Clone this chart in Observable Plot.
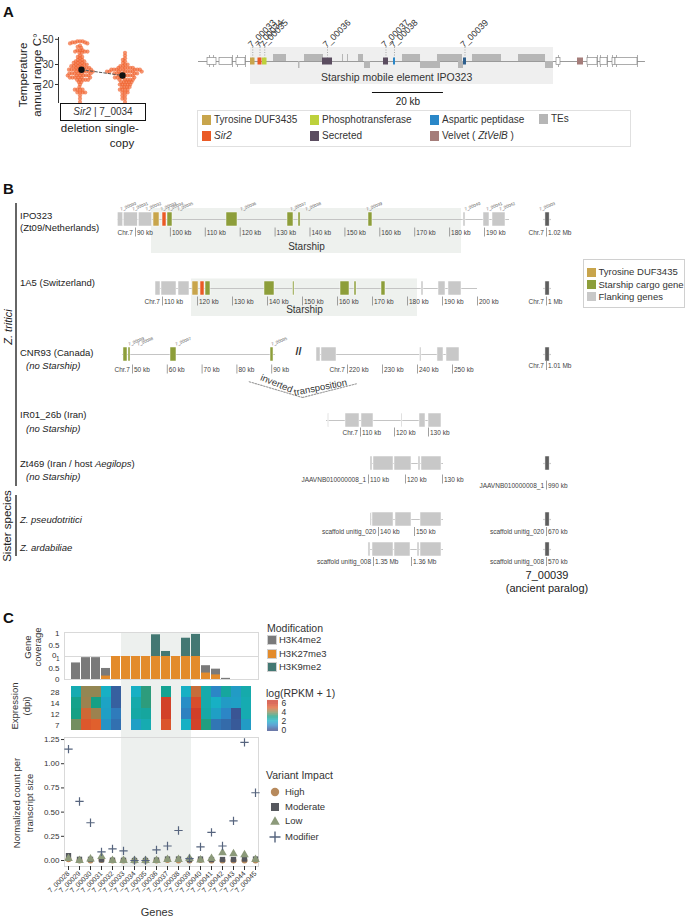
<!DOCTYPE html>
<html>
<head>
<meta charset="utf-8">
<script src="https://cdn.jsdelivr.net/npm/d3@7"></script>
<script src="https://cdn.jsdelivr.net/npm/@observablehq/plot@0.6"></script>
<style>
  html, body { margin: 0; padding: 0; background: #fff; }
  #root { position: relative; width: 685px; height: 919px; overflow: hidden; background: #fff;
          font-family: "Liberation Sans", Arial, Helvetica, sans-serif; color: #222; }
  #root svg { background: transparent !important; overflow: visible; }
  .t { position: absolute; white-space: nowrap; line-height: 1; }
  .box { position: absolute; box-sizing: border-box; }
</style>
</head>
<body>
<div id="root"></div>
<script>
// =================== DATA ===================
// ---- Panel A (left): annual temperature range, beeswarm [value, count]
const swarmGroups = ["deletion", "single-copy"];
const swarmDeletion = [[48,3],[47,3],[46,2],[44,1],[43,1],[42,1],[40,3],[39,3],[38,2],[36,1],[35,2],[34,1],[33,2],[32,3],[31,3],[30,4],[29,4],[28,5],[27,6],[26,6],[25,6],[24,6],[23,6],[22,5],[21,2],[20,1],[19,1],[18,4],[17,4],[16,1],[15,1],[14,1]];
const swarmSingle = [[38,1],[36,1],[34,1],[33,1],[32,1],[31,1],[30,2],[29,2],[28,5],[27,8],[26,8],[25,6],[24,5],[23,5],[22,5],[21,5],[20,5],[19,4],[18,4],[17,3],[16,2],[15,2],[14,1]];
const swarmMeans = [27.0, 24.0];
const swarmTicks = [20, 30, 50];

// ---- Panel A (right): Starship map, IPO323 (kb from left end of drawn region)
const mapExtent = [0, 125.9];
const mapStarship = [14.65, 100.0];
const mapOutline = [[2.54,5.07],[5.92,9.58],[10.70,13.24],[100.85,101.97],[109.58,112.39],[113.24,115.21],[116.62,117.46],[117.46,123.66]];
const mapOutlineTicks = [3.10,4.23,9.58,10.99,13.24,101.41,109.58,112.39,113.24,115.21,116.62,117.75,123.66];
const mapTEsUp = [[21.13,24.79],[29.86,35.21],[40.56,40.85],[41.97,42.25],[45.07,46.48],[57.46,62.54],[67.32,74.37],[77.18,85.35],[90.14,97.75]];
const mapTEsDown = [[28.17,28.59],[46.76,48.45],[62.54,68.17],[73.24,74.65],[97.75,100.0]];
const mapGeneIds   = ["7_00033","7_00034","7_00035","7_00036","7_00037","7_00038","7_00039","ZtVelB"];
const mapGeneStart = [14.65, 16.76, 18.03, 34.93, 52.11, 54.93, 74.65, 106.76];
const mapGeneEnd   = [15.92, 17.89, 19.30, 37.75, 53.52, 55.49, 75.49, 108.45];
const mapGeneType  = ["Tyrosine DUF3435","Sir2","Phosphotransferase","Secreted","Secreted","Aspartic peptidase","Aspartic peptidase 2","Velvet"];
const mapScaleBarKb = 20;

// ---- Panel B: synteny tracks [start kb, end kb, class]
const ipoTrack = [84.84, 197.16];
const ipoStarship = [94.58, 183.41];
const ipoTicks = [90,100,110,120,130,140,150,160,170,180,190];
const ipoGenes = [[84.93,86.48,"flank"],[86.65,90.66,"flank"],[90.95,94.79,"flank"],[95.16,96.88,"tyr"],[97.74,98.88,"sir2"],[99.17,100.60,"cargo"],[116.07,119.23,"cargo"],[133.55,135.27,"cargo"],[136.70,137.30,"cargo"],[156.76,157.90,"cargo"],[183.98,184.56,"flank"],[189.71,191.43,"flank"],[192.29,196.02,"flank"]];
const ipoLabels = [[85.7,"7_00030"],[89.1,"7_00031"],[92.9,"7_00032"],[97.2,"7_00033"],[99.2,"7_00034"],[102.0,"7_00035"],[120.1,"7_00036"],[134.4,"7_00037"],[138.7,"7_00038"],[156.2,"7_00039"],[184.3,"7_00040"],[190.6,"7_00041"],[194.3,"7_00042"]];

const a15Track = [108.0, 200.0];
const a15Starship = [118.29, 182.86];
const a15Ticks = [110,120,130,140,150,160,170,180,190,200];
const a15Genes = [[108.0,109.43,"flank"],[109.71,114.0,"flank"],[114.57,117.71,"flank"],[118.57,120.29,"tyr"],[120.86,122.0,"sir2"],[122.29,123.71,"cargo"],[139.14,142.0,"cargo"],[147.29,147.71,"cargo"],[160.86,163.43,"cargo"],[164.86,165.43,"cargo"],[172.57,173.71,"cargo"],[184.0,184.57,"flank"],[188.86,190.86,"flank"],[191.71,195.43,"flank"]];

const cnrTrackA = [47.13, 91.09];
const cnrTicksA = [50,60,70,80,90];
const cnrGenesA = [[47.41,48.56,"cargo"],[48.85,49.43,"cargo"],[60.92,62.64,"cargo"],[89.66,90.52,"cargo"]];
const cnrLabelsA = [[48.85,"7_00039"],[51.44,"7_00038"],[62.36,"7_00037"],[89.94,"7_00035"]];
const cnrTrackB = [211.14, 252.0];
const cnrTicksB = [220,230,240,250];
const cnrGenesB = [[211.14,212.29,"flank"],[212.57,216.86,"flank"],[240.71,241.14,"flank"],[245.71,247.43,"flank"],[248.29,252.0,"flank"]];

const irTrack = [100.0, 133.82];
const irTicks = [110,120,130];
const irGenes = [[100.44,100.74,"flank"],[105.59,109.71,"flank"],[110.29,113.82,"flank"],[122.06,122.35,"flank"],[127.35,129.12,"flank"],[130.0,133.82,"flank"]];

const ztTrack = [110.54, 130.27];
const ztTicks = [110,120,130];
const ztGenes = [[110.54,111.08,"flank"],[111.35,116.76,"flank"],[117.03,121.62,"flank"],[123.51,124.05,"flank"],[124.32,129.73,"flank"]];

const psTrack = [137.8, 158.06];
const psTicks = [140,150];
const psGenes = [[137.78,138.19,"flank"],[138.33,144.17,"flank"],[144.72,149.17,"flank"],[151.67,157.5,"flank"]];

const arTrack = [1348.68, 1368.42];
const arTicks = [[1350,"1.35 Mb"],[1360,"1.36 Mb"]];
const arGenes = [[1348.68,1349.21,"flank"],[1349.74,1355.26,"flank"],[1355.53,1359.74,"flank"],[1361.58,1362.11,"flank"],[1362.37,1367.89,"flank"]];

// 7_00039 ancient paralog loci
const paralogChr   = ["Chr.7","Chr.7","Chr.7","JAAVNB010000008_1","scaffold unitig_020","scaffold unitig_008"];
const paralogKb    = [1020, 1000, 1010, 990, 670, 570];
const paralogLabel = ["1.02 Mb","1 Mb","1.01 Mb","990 kb","670 kb","570 kb"];
const paralogGene  = [[1019.7,1020.9],[999.7,1000.9],[1009.7,1010.9],[989.7,990.9],[669.7,670.9],[569.7,570.9]];

// ---- Panel C
const cGenes = ["7_00028","7_00029","7_00030","7_00031","7_00032","7_00033","7_00034","7_00035","7_00036","7_00037","7_00038","7_00039","7_00040","7_00041","7_00042","7_00043","7_00044","7_00045"];
const starshipGenes = ["7_00033","7_00034","7_00035","7_00036","7_00037","7_00038","7_00039"];
const covH3K4me2  = [0.72,0.95,0.95,0.48,0,0,0,0,0,0,0,0,0,0.60,0.45,0.05,0,0];
const covH3K27me3 = [0,0,0,0.15,1,1,1,1,1,1,1,1,1,0.28,0.20,0,0,0];
const covH3K9me2  = [0,0,0,0,0,0,0,0,0.95,0.22,0,0.80,0.97,0,0,0,0,0];
const dpiRows = ["28","14","12","7"];
const expr28 = [2.3,4.1,4.1,2.0,0.3,null,2.0,3.2,null,2.8,null,2.0,4.7,2.4,1.0,2.6,1.5,2.4];
const expr14 = [2.9,4.2,3.0,1.7,0.3,null,2.4,3.2,null,5.8,null,1.2,5.5,2.4,2.0,1.5,1.6,2.3];
const expr12 = [3.0,4.8,4.2,1.6,0.8,null,2.5,2.6,null,5.8,null,0.9,5.9,2.5,1.6,1.0,0.1,2.3];
const expr7  = [3.8,5.2,5.0,1.3,0.6,null,1.6,2.3,null,5.3,null,2.0,5.8,3.1,0.7,0.5,0.2,1.5];
const varHigh     = [0.012,0,0,0.004,0,0,0,0,0,0.004,0,0,0.004,0,0,0,0,0];
const varModerate = [0.05,0.012,0.012,0.008,0.003,0.002,0,0,0.004,0.015,0.015,0.01,0.015,0.01,0.01,0.01,0.015,0.015];
const varLow      = [0.02,0,0.015,0.04,0,0,0,0,0,0.01,0.01,0.02,0.005,0.02,0.08,0.07,0.06,0.01];
const varModifier = [1.15,0.61,0.39,0.09,0.12,0.10,0.0,0.0,0.11,0.15,0.31,0.02,0.14,0.29,0.15,0.41,1.22,0.70];
const varTicks = [0, 0.25, 0.5, 0.75, 1.0, 1.25];

// =================== STYLES ===================
const FONT = "'Liberation Sans', Arial, Helvetica, sans-serif";
const STYLE = {background: "transparent", overflow: "visible", fontFamily: FONT};
const typeColor = {"Tyrosine DUF3435": "#c8a54c", "Sir2": "#ea5a26", "Phosphotransferase": "#bdd13c",
  "Aspartic peptidase": "#2a87c8", "Aspartic peptidase 2": "#2e5f8e", "Secreted": "#5b4d60",
  "Velvet": "#a57d7a", "TEs": "#b6b6b6"};
const geneFill = {flank: "#c8c8c8", tyr: "#c8a54c", sir2: "#ea5a26", cargo: "#8d9e3a", paralog: "#5e5e5e"};
const heatScale = {type: "linear", domain: [0,1,2,3,4,5,6],
  range: ["#3b4f8e","#2c86c6","#17b0c4","#15a085","#8b8a57","#e0602d","#cf3a28"], clamp: true};

// =================== HELPERS ===================
const root = document.getElementById("root");
function put(node, left, top) {
  node.style.position = "absolute"; node.style.left = left + "px"; node.style.top = top + "px";
  root.appendChild(node); return node;
}
function txt(html, x, y, o = {}) {
  const d = document.createElement("div");
  d.className = "t"; d.innerHTML = html;
  d.style.left = x + "px"; d.style.top = y + "px";
  d.style.fontSize = (o.size || 10) + "px";
  if (o.weight) d.style.fontWeight = o.weight;
  if (o.italic) d.style.fontStyle = "italic";
  d.style.color = o.color || "#222";
  const tx = o.anchor === "middle" ? "-50%" : o.anchor === "end" ? "-100%" : "0";
  d.style.transform = o.rotate ? `translate(-50%,-50%) rotate(${o.rotate}deg)` : `translate(${tx},-50%)`;
  root.appendChild(d); return d;
}
function rectDiv(left, top, w, h, css) {
  const d = document.createElement("div");
  d.className = "box";
  Object.assign(d.style, {left: left + "px", top: top + "px", width: w + "px", height: h + "px"}, css);
  root.appendChild(d); return d;
}
function swatch(x, y, w, h, color, border) {
  return rectDiv(x, y - h / 2, w, h, {background: color, border: border || "none"});
}

// =================== PANEL LETTERS ===================
txt("A", 3, 11, {size: 15, weight: "bold", color: "#111"});
txt("B", 3, 188, {size: 15, weight: "bold", color: "#111"});
txt("C", 3, 617, {size: 15, weight: "bold", color: "#111"});

// =================== PANEL A LEFT ===================
const swarmData = [];
for (const [v, n] of swarmDeletion) for (let i = 0; i < n; i++) swarmData.push({group: "deletion", value: v});
for (const [v, n] of swarmSingle) for (let i = 0; i < n; i++) swarmData.push({group: "single-copy", value: v});
const meanData = swarmGroups.map((g, i) => ({group: g, value: swarmMeans[i]}));
const swarmDims = {width: 190, height: 103, marginLeft: 58, marginRight: 45, marginTop: 37, marginBottom: 0};
const yLogDomain = [13.6, 51.9];

put(Plot.plot({...swarmDims, style: STYLE,
  fx: {domain: swarmGroups, padding: 0.1, axis: null, label: null},
  y: {type: "log", domain: yLogDomain, axis: null},
  marks: [Plot.dot(swarmData, Plot.dodgeX({anchor: "middle", padding: -1.6},
    {fx: "group", y: "value", r: 2.1, fill: "#f0622c", fillOpacity: 0.68}))]
}), 0, 0);

rectDiv(58, 37, 1.2, 66, {background: "#333"});
put(Plot.plot({...swarmDims, style: {...STYLE, color: "#333"},
  x: {type: "point", domain: swarmGroups, padding: 0.55, axis: null},
  y: {type: "log", domain: yLogDomain},
  marks: [
    Plot.axisY({ticks: swarmTicks, tickFormat: d => String(d), tickSize: 3, tickPadding: 2, fontSize: 10, label: null}),
    Plot.line(meanData, {x: "group", y: "value", stroke: "#555", strokeDasharray: "2.5,2", strokeWidth: 1}),
    Plot.dot(meanData, {x: "group", y: "value", r: 3.2, fill: "#111"})
  ]
}), 0, 0);

rectDiv(60, 103, 86, 18, {border: "1.3px solid #111", background: "#fff"});
txt("<i>Sir2</i> | 7_0034", 103, 112, {size: 10, anchor: "middle", color: "#333"});
txt("deletion", 81, 129, {size: 11.5, anchor: "middle"});
txt("single-", 122, 129, {size: 11.5, anchor: "middle"});
txt("copy", 122, 143.5, {size: 11.5, anchor: "middle"});
txt("Temperature", 24, 75, {size: 11.5, rotate: -90});
txt("annual range C°", 37.5, 75, {size: 11.5, rotate: -90});

// =================== PANEL A RIGHT ===================
const mapGenes = mapGeneIds.map((id, i) => ({id, start: mapGeneStart[i], end: mapGeneEnd[i], type: mapGeneType[i]}));
const mapLabelled = mapGenes.filter(d => d.id.startsWith("7_"));
const mid = d => (d.start + d.end) / 2;
const mapP0 = 198, mapS = 3.55;
put(Plot.plot({width: 685, height: 108, margin: 0, style: STYLE,
  x: {domain: [-mapP0 / mapS, (685 - mapP0) / mapS], range: [0, 685], axis: null},
  y: {domain: [-61, 47], range: [0, 108], axis: null},
  marks: [
    Plot.rect([mapStarship], {x1: d => d[0], x2: d => d[1], y1: -14, y2: 23, fill: "#efefef"}),
    Plot.text(["Starship mobile element IPO323"], {x: (mapStarship[0] + mapStarship[1]) / 2 - 1.5, y: 16, text: d => d, fontSize: 10.5, fill: "#333"}),
    Plot.ruleY([0], {x1: mapExtent[0], x2: mapExtent[1], stroke: "#9a9a9a", strokeWidth: 1}),
    Plot.ruleX(mapOutlineTicks, {x: d => d, y1: -6, y2: 6, stroke: "#8a8a8a", strokeWidth: 0.7}),
    Plot.rect(mapOutline, {x1: d => d[0], x2: d => d[1], y1: -3.5, y2: 3.5, fill: "white", stroke: "#8a8a8a", strokeWidth: 0.7}),
    Plot.rect(mapTEsUp, {x1: d => d[0], x2: d => d[1], y1: -7, y2: 0, fill: typeColor.TEs}),
    Plot.rect(mapTEsDown, {x1: d => d[0], x2: d => d[1], y1: 0, y2: 7, fill: typeColor.TEs}),
    Plot.ruleX(mapLabelled, {x: mid, y1: -14, y2: -3.5, stroke: "#888", strokeDasharray: "1,1.5", strokeWidth: 0.7}),
    Plot.rect(mapGenes, {x1: "start", x2: "end", y1: -3.5, y2: 3.5, fill: d => typeColor[d.type]}),
    Plot.text(mapLabelled, {x: mid, y: -15.5, text: "id", rotate: -45, textAnchor: "start", dx: -3, fontSize: 9, fill: "#333"}),
    Plot.ruleY([31], {x1: 49, x2: 49 + mapScaleBarKb, stroke: "#111", strokeWidth: 1.2}),
    Plot.text([`${mapScaleBarKb} kb`], {x: 49 + mapScaleBarKb / 2, y: 40, text: d => d, fontSize: 10, fill: "#222"})
  ]
}), 0, 0);

// legend A
rectDiv(197, 110, 434, 37, {border: "1.5px solid #e0e0e0"});
const legA = [
  [202, 120, "Tyrosine DUF3435", "Tyrosine DUF3435"], [310, 120, "Phosphotransferase", "Phosphotransferase"],
  [430, 120, "Aspartic peptidase", "Aspartic peptidase"], [539, 119, "TEs", "TEs"],
  [202, 136, "Sir2", "<i>Sir2</i>"], [310, 136, "Secreted", "Secreted"], [430, 136, "Velvet", "Velvet ( <i>ZtVelB</i> )"]
];
for (const [x, y, key, label] of legA) {
  swatch(x, y, 9, 10, typeColor[key]);
  txt(label, x + 12, y, {size: 10, color: "#333"});
}

// =================== PANEL B ===================
function track(c) {
  const H = 100;
  const ticks = c.ticks;
  const marks = [];
  if (c.shade) {
    marks.push(Plot.rect([c.shade], {x1: d => d[0], x2: d => d[1], y1: c.shadeY[0], y2: c.shadeY[1], fill: "#eef1ee"}));
    marks.push(Plot.text(["Starship"], {x: (c.shade[0] + c.shade[1]) / 2, y: c.starY, text: d => d, fontSize: 10, fill: "#333"}));
  }
  if (c.line) marks.push(Plot.ruleY([0], {x1: c.line[0], x2: c.line[1], stroke: "#c4c4c4", strokeWidth: 1.2}));
  marks.push(Plot.rect(c.genes, {x1: d => d[0], x2: d => d[1], y1: -7, y2: 7, fill: d => geneFill[d[2]], stroke: "white", strokeWidth: 0.5}));
  marks.push(Plot.ruleX(ticks, {x: d => d[0], y1: c.tickY - 4.5, y2: c.tickY + 4.5, stroke: "#888", strokeWidth: 0.8}));
  marks.push(Plot.text(ticks, {x: d => d[0], y: c.tickY, text: d => d[1], textAnchor: "start", dx: 1.5, fontSize: 6.5, fill: "#444"}));
  if (c.chr) marks.push(Plot.text([ticks[0]], {x: d => d[0], y: c.tickY, text: () => c.chr, textAnchor: "end", dx: -2.5, fontSize: 6.5, fill: "#444"}));
  if (c.labels) marks.push(Plot.text(c.labels, {x: d => d[0], y: -10, text: d => d[1], rotate: -22, textAnchor: "start", fontSize: 4.3, fill: "#555"}));
  if (c.extra) marks.push(...c.extra);
  put(Plot.plot({width: 685, height: H, margin: 0, style: STYLE,
    x: {domain: [c.k0 - c.p0 / c.s, c.k0 + (685 - c.p0) / c.s], range: [0, 685], axis: null},
    y: {domain: [-50, 50], range: [0, H], axis: null},
    marks
  }), 0, c.y - 50);
}
const kbTicks = arr => arr.map(t => [t, `${t} kb`]);

// Row 1 IPO323
track({y: 219, p0: 135, k0: 90, s: 3.49, line: ipoTrack, genes: ipoGenes, ticks: kbTicks(ipoTicks), chr: "Chr.7", tickY: 13,
  shade: ipoStarship, shadeY: [-11, 34], starY: 27.5, labels: ipoLabels});
// Row 2 1A5
track({y: 287.5, p0: 162, k0: 110, s: 3.5, line: a15Track, genes: a15Genes, ticks: kbTicks(a15Ticks), chr: "Chr.7", tickY: 13,
  shade: a15Starship, shadeY: [-9.5, 28], starY: 21.5});
// Row 3 CNR93 (two segments)
const transposition = [
  {x1: 98.85, y1: 43, x2: 83.33, y2: 27, bend: 17},
  {x1: 98.85, y1: 43, x2: 114.66, y2: 29, bend: -15}
];
track({y: 354, p0: 132, k0: 50, s: 3.48, line: cnrTrackA, genes: cnrGenesA, ticks: kbTicks(cnrTicksA), chr: "Chr.7", tickY: 15,
  labels: cnrLabelsA,
  extra: [
    Plot.text(["//"], {x: 97.7, y: -3, text: d => d, fontSize: 11, fontWeight: "bold", fill: "#333"}),
    Plot.arrow(transposition, {x1: "x1", y1: "y1", x2: "x2", y2: "y2", bend: d => d.bend, stroke: "#999", strokeWidth: 1.1, strokeDasharray: "1.6,1.4", headLength: 8}),
    Plot.text(["inverted"], {x: 91.4, y: 29, text: d => d, rotate: 22, fontSize: 9.5, fill: "#333"}),
    Plot.text(["transposition"], {x: 104.0, y: 33, text: d => d, rotate: -11, fontSize: 9.5, fill: "#333"})
  ]});
track({y: 354, p0: 347, k0: 220, s: 3.5, line: cnrTrackB, genes: cnrGenesB, ticks: kbTicks(cnrTicksB), chr: "Chr.7", tickY: 15});
// Row 4 IR01_26b
track({y: 419.5, p0: 360, k0: 110, s: 3.4, line: irTrack, genes: irGenes, ticks: kbTicks(irTicks), chr: "Chr.7", tickY: 12});
// Row 5 Zt469
track({y: 462.5, p0: 368, k0: 110, s: 3.7, line: ztTrack, genes: ztGenes, ticks: kbTicks(ztTicks), chr: "JAAVNB010000008_1", tickY: 16});
// Row 6 Z. pseudotritici
track({y: 519, p0: 378, k0: 140, s: 3.6, line: psTrack, genes: psGenes, ticks: kbTicks(psTicks), chr: "scaffold unitig_020", tickY: 12.5});
// Row 7 Z. ardabiliae
track({y: 549, p0: 373, k0: 1350, s: 3.8, line: arTrack, genes: arGenes, ticks: arTicks, chr: "scaffold unitig_008", tickY: 12.5});

// paralog loci
const paralogRowY = [219, 287.5, 354, 462.5, 519, 549];
const paralogTickY = [13, 13, 11.5, 22, 12.5, 12.5];
paralogKb.forEach((kb, i) => {
  track({y: paralogRowY[i], p0: 546, k0: kb, s: 3.49, line: [paralogGene[i][0] - 0.5, paralogGene[i][1] + 0.5],
    genes: [[paralogGene[i][0], paralogGene[i][1], "paralog"]], ticks: [[kb, paralogLabel[i]]], chr: paralogChr[i], tickY: paralogTickY[i],
    labels: i === 0 ? [[kb - 2, "7_00303"]] : null});
});

// legend B
rectDiv(583, 259, 102, 49, {border: "1.5px solid #d0d0d0"});
[["Tyrosine DUF3435", geneFill.tyr, 272], ["Starship cargo gene", geneFill.cargo, 284.5], ["Flanking genes", geneFill.flank, 296.5]]
  .forEach(([label, col, y]) => { swatch(587, y, 9, 9, col); txt(label, 598.5, y, {size: 9.5, color: "#333"}); });

// row labels
rectDiv(15, 203, 2, 283, {background: "#666"});
rectDiv(15, 495, 2, 61, {background: "#666"});
txt("Z. tritici", 7.5, 327, {size: 11, italic: true, rotate: -90});
txt("Sister species", 7.5, 526, {size: 11.5, rotate: -90});
const rowLab = [
  ["IPO323", 20, 216, false], ["(Zt09/Netherlands)", 20, 228, false],
  ["1A5 (Switzerland)", 20, 283, false],
  ["CNR93 (Canada)", 20, 353, false], ["(no Starship)", 26, 366, true],
  ["IR01_26b (Iran)", 20, 415, false], ["(no Starship)", 26, 429, true],
  ["Zt469 (Iran / host <i>Aegilops</i>)", 20, 464, false], ["(no Starship)", 26, 477, true],
  ["Z. pseudotritici", 20, 520, true], ["Z. ardabiliae", 20, 548, true]
];
for (const [h, x, y, it] of rowLab) txt(h, x, y, {size: 9.5, italic: it, color: "#222"});
txt("7_00039", 547, 575, {size: 11, anchor: "middle"});
txt("(ancient paralog)", 547, 588, {size: 11, anchor: "middle"});

// =================== PANEL C ===================
const cDims = {width: 685, marginLeft: 64, marginRight: 427};
function cPlot(top, height, mt, mb, opts) {
  put(Plot.plot({...cDims, height, marginTop: mt, marginBottom: mb, style: {...STYLE, color: "#333"}, ...opts}), 0, top);
}
const toRows = arr => cGenes.map((g, i) => ({gene: g, value: arr[i]}));

// starship shading behind panel C
cPlot(632, 234, 0, 0, {x: {domain: cGenes, padding: 0, axis: null}, y: {domain: [0, 1], axis: null},
  marks: [Plot.barY(starshipGenes, {x: d => d, y1: 0, y2: 1, fill: "#edf0ee", inset: 0})]});

const covX = {domain: cGenes, paddingInner: 0.08, paddingOuter: 0.04, axis: null};
// coverage top (H3K9me2)
cPlot(628, 30, 4, 2, {x: covX, y: {domain: [0, 1.05]},
  marks: [
    Plot.frame({stroke: "#d9d9d9"}),
    Plot.barY(toRows(covH3K9me2).filter(d => d.value > 0), {x: "gene", y: "value", fill: "#437873"}),
    Plot.axisY({ticks: [0.5, 1], tickFormat: d => String(d), tickSize: 0, tickPadding: 5, fontSize: 8, label: null}),
    Plot.axisY({ticks: [0], tickFormat: d => String(d), tickSize: 0, tickPadding: 5, fontSize: 8, label: null, dx: -3, dy: -1})
  ]});
// coverage bottom (H3K4me2, H3K27me3)
cPlot(652, 31, 4, 4, {x: covX, y: {domain: [0, 1]},
  marks: [
    Plot.frame({stroke: "#d9d9d9"}),
    Plot.barY(toRows(covH3K4me2).filter(d => d.value > 0), {x: "gene", y: "value", fill: "#7a7a7a"}),
    Plot.barY(toRows(covH3K27me3).filter(d => d.value > 0), {x: "gene", y: "value", fill: "#e38b2b"}),
    Plot.axisY({ticks: [0, 0.5], tickFormat: d => String(d), tickSize: 0, tickPadding: 5, fontSize: 8, label: null}),
    Plot.axisY({ticks: [1], tickFormat: d => String(d), tickSize: 0, tickPadding: 5, fontSize: 6.5, label: null, dy: 2})
  ]});
// expression heatmap
const heatData = [];
[expr28, expr14, expr12, expr7].forEach((arr, r) => arr.forEach((v, i) => { if (v != null) heatData.push({gene: cGenes[i], dpi: dpiRows[r], value: v}); }));
cPlot(685, 46, 0, 0, {x: {domain: cGenes, padding: 0, axis: null}, y: {domain: dpiRows, padding: 0}, color: heatScale,
  marks: [
    Plot.cell(heatData, {x: "gene", y: "dpi", fill: "value", inset: 0}),
    Plot.axisY({tickSize: 0, tickPadding: 5, fontSize: 8, label: null})
  ]});
// variants
cPlot(737, 169, 0, 40, {x: {domain: cGenes, padding: 0}, y: {domain: [-0.062, 1.271]},
  marks: [
    Plot.frame({stroke: "#d9d9d9"}),
    Plot.dot(toRows(varHigh), {x: "gene", y: "value", symbol: "circle", fill: "#b78a5d", r: 3}),
    Plot.dot(toRows(varModerate), {x: "gene", y: "value", symbol: "square", fill: "#56585e", r: 3}),
    Plot.dot(toRows(varLow), {x: "gene", y: "value", symbol: "triangle", fill: "#8c9a7a", r: 3.2}),
    Plot.dot(toRows(varModifier), {x: "gene", y: "value", symbol: "plus", stroke: "#56647e", strokeWidth: 1.2, r: 2.8}),
    Plot.axisY({ticks: varTicks, tickFormat: ".2f", tickSize: 3, tickPadding: 2, fontSize: 8, label: null}),
    Plot.axisX({tickRotate: -45, fontSize: 7, tickSize: 4, tickPadding: 2, label: null})
  ]});

// panel C titles
txt("Gene", 27.5, 647, {size: 9.5, rotate: -90, color: "#333"});
txt("coverage", 38, 647, {size: 9.5, rotate: -90, color: "#333"});
txt("Expression", 15, 706, {size: 9.5, rotate: -90, color: "#333"});
txt("(dpi)", 27, 706, {size: 9.5, rotate: -90, color: "#333"});
txt("Normalized count per", 17, 803, {size: 9.5, rotate: -90, color: "#333"});
txt("transcript size", 29.5, 803, {size: 9.5, rotate: -90, color: "#333"});
txt("Genes", 157, 912, {size: 11, anchor: "middle", color: "#333"});

// Modification legend
txt("Modification", 267, 628, {size: 10.5, color: "#333"});
[["H3K4me2", "#7a7a7a", 640], ["H3K27me3", "#e38b2b", 653.5], ["H3K9me2", "#437873", 666.5]]
  .forEach(([l, c, y]) => { swatch(267, y, 10, 10, c, "1px solid #d0d0d0"); txt(l, 279, y, {size: 9.5, color: "#333"}); });

// log(RPKM + 1) colour bar
txt("log(RPKM + 1)", 266, 693, {size: 10.5, color: "#333"});
put(Plot.plot({width: 40, height: 40, margin: 0, style: {...STYLE, color: "#333"},
  x: {domain: [0, 1], range: [5, 16], axis: null},
  y: {domain: [-0.3, 6.7], range: [34, 3], axis: null},
  color: heatScale,
  marks: [
    Plot.rect(d3.range(-0.3, 6.7, 0.05), {x1: 0, x2: 1, y1: d => d, y2: d => d + 0.06, fill: d => d}),
    Plot.text([0, 2, 4, 6], {x: 1, y: d => d, text: d => String(d), textAnchor: "start", dx: 3, fontSize: 8.5, fill: "#333"})
  ]
}), 262, 697);

// Variant legend
txt("Variant Impact", 266, 775, {size: 10.5, color: "#333"});
const symSvg = {
  High: '<circle r="4.2" fill="#b78a5d"/>',
  Moderate: '<rect x="-4" y="-4" width="8" height="8" fill="#56585e"/>',
  Low: '<path d="M0,-4.8L4.8,3.8L-4.8,3.8Z" fill="#8c9a7a"/>',
  Modifier: '<path d="M-5.5,0H5.5M0,-5.5V5.5" stroke="#56647e" stroke-width="1.4"/>'
};
[["High", 792], ["Moderate", 806.5], ["Low", 821], ["Modifier", 837]].forEach(([k, y]) => {
  const d = document.createElement("div");
  d.innerHTML = `<svg width="14" height="14" viewBox="-7 -7 14 14">${symSvg[k]}</svg>`;
  put(d, 268, y - 7);
  txt(k, 285, y, {size: 9.5, color: "#333"});
});
</script>
</body>
</html>
